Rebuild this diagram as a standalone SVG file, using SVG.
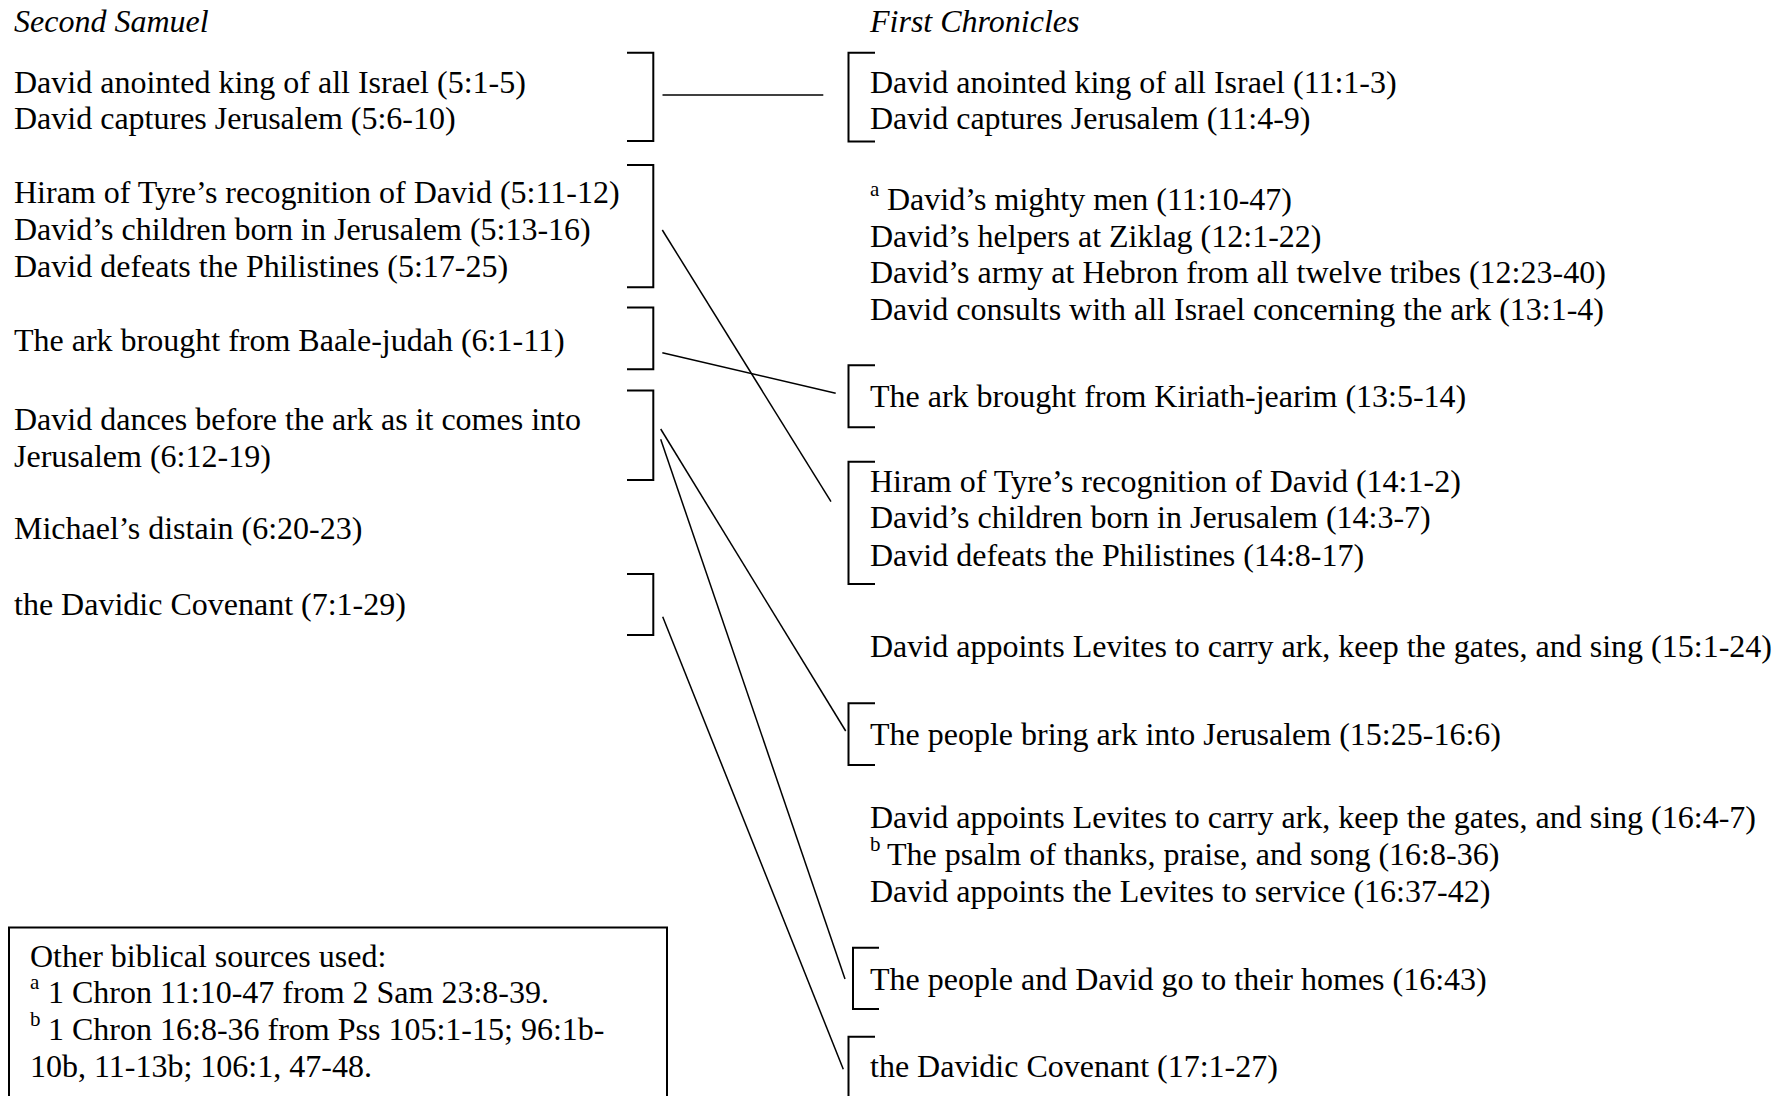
<svg xmlns="http://www.w3.org/2000/svg" width="1792" height="1096" viewBox="0 0 1792 1096">
<style>
  text { font-family: "Liberation Serif", "Times New Roman", serif; font-size: 32px; fill: #000; }
  .hdr { font-style: italic; }
  .sup { font-size: 21px; }
  .br { fill: none; stroke: #000; stroke-width: 2; }
  .cn { fill: none; stroke: #000; stroke-width: 1.5; }
  .box { fill: none; stroke: #000; stroke-width: 2; }
</style>
<rect width="1792" height="1096" fill="#fff"/>

<g id="headers">
  <text class="hdr" x="14" y="31.7">Second Samuel</text>
  <text class="hdr" x="870" y="31.7">First Chronicles</text>
</g>

<g id="left-1">
  <path class="br" d="M627,52.7 H653.3 V141 H627"/>
  <text x="14" y="92.8">David anointed king of all Israel (5:1-5)</text>
  <text x="14" y="129">David captures Jerusalem (5:6-10)</text>
</g>
<g id="left-2">
  <path class="br" d="M627,165 H653.3 V287.3 H627"/>
  <text x="14" y="203.3">Hiram of Tyre’s recognition of David (5:11-12)</text>
  <text x="14" y="240">David’s children born in Jerusalem (5:13-16)</text>
  <text x="14" y="276.7">David defeats the Philistines (5:17-25)</text>
</g>
<g id="left-3">
  <path class="br" d="M627,307.5 H653.3 V369.3 H627"/>
  <text x="14" y="351">The ark brought from Baale-judah (6:1-11)</text>
</g>
<g id="left-4">
  <path class="br" d="M627,390.5 H653.3 V480 H627"/>
  <text x="14" y="430">David dances before the ark as it comes into</text>
  <text x="14" y="466.7">Jerusalem (6:12-19)</text>
</g>
<g id="left-5">
  <text x="14" y="539.3">Michael’s distain (6:20-23)</text>
</g>
<g id="left-6">
  <path class="br" d="M627,574 H653.3 V635 H627"/>
  <text x="14" y="615">the Davidic Covenant (7:1-29)</text>
</g>

<g id="right-1">
  <path class="br" d="M875,52.7 H848.5 V141.5 H875"/>
  <text x="870" y="92.8">David anointed king of all Israel (11:1-3)</text>
  <text x="870" y="129">David captures Jerusalem (11:4-9)</text>
</g>
<g id="right-2">
  <text x="870" y="210"><tspan class="sup" dy="-14">a</tspan><tspan x="887" dy="14">David’s mighty men (11:10-47)</tspan></text>
  <text x="870" y="246.7">David’s helpers at Ziklag (12:1-22)</text>
  <text x="870" y="283.4">David’s army at Hebron from all twelve tribes (12:23-40)</text>
  <text x="870" y="320.1">David consults with all Israel concerning the ark (13:1-4)</text>
</g>
<g id="right-3">
  <path class="br" d="M875,365.3 H848.5 V427.3 H875"/>
  <text x="870" y="406.7">The ark brought from Kiriath-jearim (13:5-14)</text>
</g>
<g id="right-4">
  <path class="br" d="M875,461.7 H848.5 V584 H875"/>
  <text x="870" y="491.7">Hiram of Tyre’s recognition of David (14:1-2)</text>
  <text x="870" y="528.3">David’s children born in Jerusalem (14:3-7)</text>
  <text x="870" y="565.5">David defeats the Philistines (14:8-17)</text>
</g>
<g id="right-5">
  <text x="870" y="656.7">David appoints Levites to carry ark, keep the gates, and sing (15:1-24)</text>
</g>
<g id="right-6">
  <path class="br" d="M875,703.3 H848.5 V765 H875"/>
  <text x="870" y="745">The people bring ark into Jerusalem (15:25-16:6)</text>
</g>
<g id="right-7">
  <text x="870" y="828.3">David appoints Levites to carry ark, keep the gates, and sing (16:4-7)</text>
  <text x="870" y="865"><tspan class="sup" dy="-14">b</tspan><tspan x="887" dy="14">The psalm of thanks, praise, and song (16:8-36)</tspan></text>
  <text x="870" y="901.7">David appoints the Levites to service (16:37-42)</text>
</g>
<g id="right-8">
  <path class="br" d="M879,947.7 H853 V1009 H879"/>
  <text x="870" y="990">The people and David go to their homes (16:43)</text>
</g>
<g id="right-9">
  <path class="br" d="M875,1036.7 H848.5 V1100"/>
  <text x="870" y="1076.7">the Davidic Covenant (17:1-27)</text>
</g>

<g id="sources-box">
  <rect class="box" x="9" y="927.5" width="658" height="200"/>
  <text x="30" y="966.7">Other biblical sources used:</text>
  <text x="30" y="1003.3"><tspan class="sup" dy="-14">a</tspan><tspan x="48" dy="14">1 Chron 11:10-47 from 2 Sam 23:8-39.</tspan></text>
  <text x="30" y="1040"><tspan class="sup" dy="-14">b</tspan><tspan x="48" dy="14">1 Chron 16:8-36 from Pss 105:1-15; 96:1b-</tspan></text>
  <text x="30" y="1076.7">10b, 11-13b; 106:1, 47-48.</text>
</g>

<g id="connectors">
  <line class="cn" x1="662.5" y1="95" x2="823.3" y2="95"/>
  <line class="cn" x1="662.3" y1="230" x2="831" y2="501.7"/>
  <line class="cn" x1="662.3" y1="352.7" x2="835.7" y2="393.3"/>
  <line class="cn" x1="660.7" y1="429" x2="845.7" y2="731"/>
  <line class="cn" x1="660.7" y1="439.3" x2="845" y2="979"/>
  <line class="cn" x1="662.7" y1="616.7" x2="843.3" y2="1069.3"/>
</g>
</svg>
